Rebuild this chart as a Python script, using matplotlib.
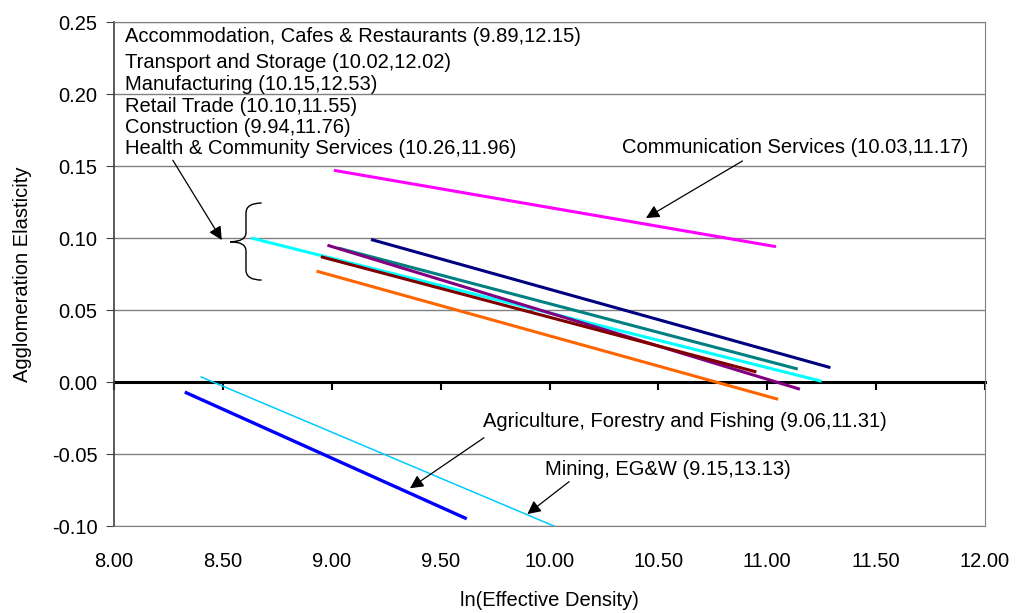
import matplotlib
matplotlib.use('Agg')
import matplotlib.pyplot as plt
from matplotlib.path import Path
from matplotlib.patches import PathPatch

plt.rcParams['font.family'] = ['Liberation Sans', 'DejaVu Sans']

# line segments: (x start, x end), (y start, y end)
communication_x = [9.01, 11.04]
communication_y = [0.147, 0.094]

# the six industries grouped under the brace
group_x = [
    [8.63, 11.25],   # cyan
    [9.18, 11.29],   # navy
    [9.03, 11.14],   # teal
    [8.98, 11.15],   # purple
    [8.95, 10.95],   # maroon
    [8.93, 11.05],   # orange
]
group_y = [
    [0.100, 0.0005],
    [0.099, 0.010],
    [0.093, 0.009],
    [0.095, -0.005],
    [0.087, 0.007],
    [0.077, -0.012],
]
group_colors = ['#00FFFF', '#000080', '#008080', '#800080', '#800000', '#FF6600']

mining_x = [8.40, 10.02]
mining_y = [0.0035, -0.100]
agri_x = [8.325, 9.62]
agri_y = [-0.007, -0.095]

group_labels = [
    'Accommodation, Cafes & Restaurants (9.89,12.15)',
    'Transport and Storage (10.02,12.02)',
    'Manufacturing (10.15,12.53)',
    'Retail Trade (10.10,11.55)',
    'Construction (9.94,11.76)',
    'Health & Community Services (10.26,11.96)',
]
group_label_y = [0.2396, 0.2222, 0.2063, 0.1910, 0.1770, 0.1625]

xticks = [8.0, 8.5, 9.0, 9.5, 10.0, 10.5, 11.0, 11.5, 12.0]
yticks = [-0.10, -0.05, 0.0, 0.05, 0.10, 0.15, 0.20, 0.25]

fs = 14.5

fig = plt.figure(figsize=(10.2, 6.13), dpi=100)
ax = fig.add_axes([0.1118, 0.1419, 0.8539, 0.8222])
ax.set_xlim(8, 12)
ax.set_ylim(-0.10, 0.25)

# grid and frame
for yv in yticks:
    if yv != 0.0:
        ax.axhline(yv, color='#808080', lw=1.0, zorder=0)
for side in ['top', 'right', 'bottom']:
    ax.spines[side].set_color('#808080')
ax.spines['left'].set_color('#404040')
ax.spines['left'].set_linewidth(1.2)

ax.set_yticks(yticks)
ax.set_yticklabels(['%.2f' % v for v in yticks], fontsize=fs)
ax.tick_params(axis='y', direction='out', length=6, color='#404040', pad=6)
ax.set_xticks(xticks)
ax.set_xticklabels(['%.2f' % v for v in xticks], fontsize=fs)
ax.tick_params(axis='x', length=0, pad=19)

# zero axis with downward ticks
sec = ax.secondary_xaxis(0.10 / 0.35)
sec.set_xticks(xticks)
sec.set_xticklabels([])
sec.tick_params(direction='out', length=6, width=1.5, color='black')
sec.spines['bottom'].set_linewidth(2.2)
sec.spines['bottom'].set_color('black')

# lines
ax.plot(communication_x, communication_y, color='#FF00FF', lw=2.2, solid_capstyle='butt')
for xs, ys, c in zip(group_x, group_y, group_colors):
    ax.plot(xs, ys, color=c, lw=2.2, solid_capstyle='butt')
ax.plot(mining_x, mining_y, color='#00CCFF', lw=1.1)
ax.plot(agri_x, agri_y, color='#0000FF', lw=2.4, solid_capstyle='butt')

# text block for the grouped industries
for lab, yv in zip(group_labels, group_label_y):
    ax.text(8.05, yv, lab, fontsize=fs, va='center', ha='left')

arrow = dict(arrowstyle='-|>', mutation_scale=20, lw=0.9, color='black', shrinkA=0, shrinkB=0)

ax.annotate('', xy=(8.495, 0.0986), xytext=(8.27, 0.154), arrowprops=arrow)
ax.text(10.333, 0.163, 'Communication Services (10.03,11.17)', fontsize=fs, va='center', ha='left')
ax.annotate('', xy=(10.443, 0.1139), xytext=(10.886, 0.1535), arrowprops=arrow)
ax.text(9.693, -0.0271, 'Agriculture, Forestry and Fishing (9.06,11.31)', fontsize=fs, va='center', ha='left')
ax.annotate('', xy=(9.359, -0.0738), xytext=(9.699, -0.0387), arrowprops=arrow)
ax.text(9.979, -0.0611, 'Mining, EG&W (9.15,13.13)', fontsize=fs, va='center', ha='left')
ax.annotate('', xy=(9.898, -0.0917), xytext=(10.09, -0.0692), arrowprops=arrow)

# curly brace
bx, tip, end = 8.606, 8.533, 8.678
top, mid, bot = 0.1243, 0.0974, 0.0708
verts = [(end, top), (bx, top), (bx, top - 0.007),
         (bx, mid + 0.0065),
         (bx, mid), (tip, mid),
         (bx, mid), (bx, mid - 0.0065),
         (bx, bot + 0.007),
         (bx, bot), (end, bot)]
codes = [Path.MOVETO, Path.CURVE3, Path.CURVE3,
         Path.LINETO,
         Path.CURVE3, Path.CURVE3,
         Path.CURVE3, Path.CURVE3,
         Path.LINETO,
         Path.CURVE3, Path.CURVE3]
ax.add_patch(PathPatch(Path(verts, codes), facecolor='none', edgecolor='black', lw=1.0))

ax.set_xlabel('ln(Effective Density)', fontsize=fs, labelpad=14)
ax.set_ylabel('Agglomeration Elasticity', fontsize=fs, labelpad=14)

fig.savefig('out.png', dpi=100)
